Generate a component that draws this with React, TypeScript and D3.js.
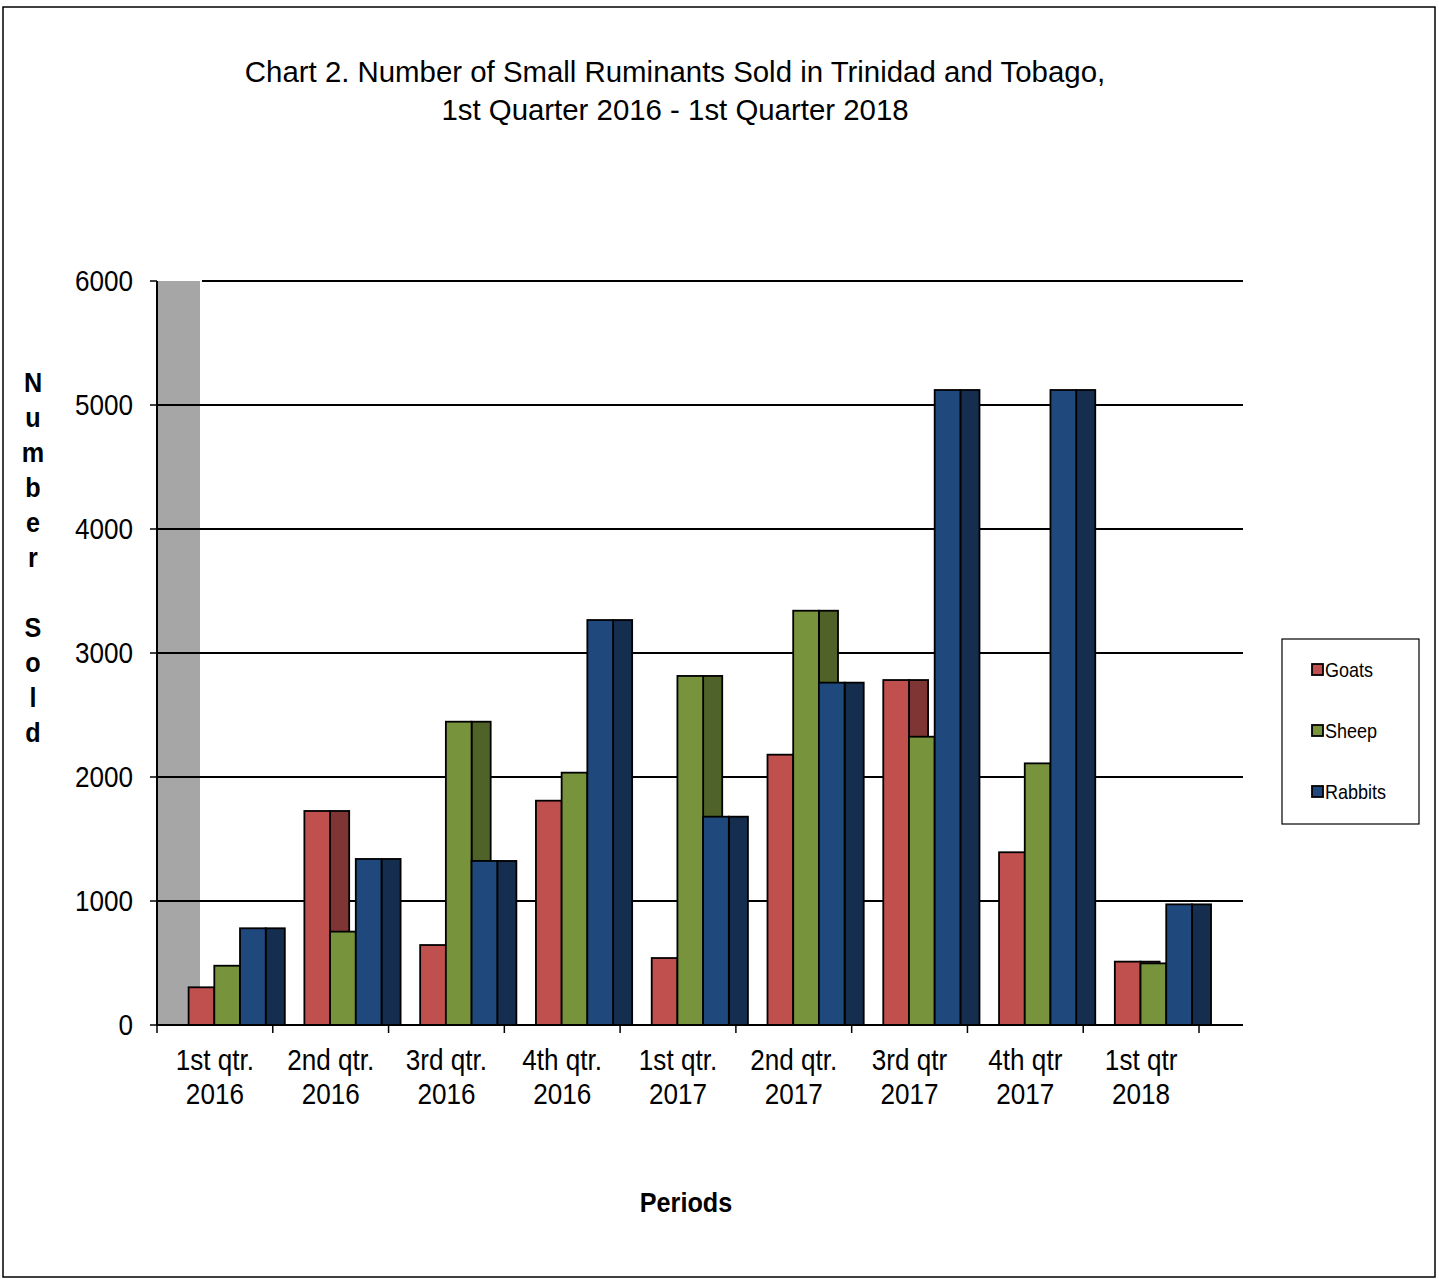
import React from "react";
import * as d3 from "d3";

const categories = [
  ["1st qtr.", "2016"],
  ["2nd qtr.", "2016"],
  ["3rd qtr.", "2016"],
  ["4th qtr.", "2016"],
  ["1st qtr.", "2017"],
  ["2nd qtr.", "2017"],
  ["3rd qtr", "2017"],
  ["4th qtr", "2017"],
  ["1st qtr", "2018"],
];
const seriesNames = ["Goats", "Sheep", "Rabbits"];
const goats = [304, 1726, 645, 1809, 540, 2180, 2782, 1393, 511];
const sheep = [478, 753, 2446, 2035, 2815, 3341, 2325, 2110, 497];
const rabbits = [780, 1339, 1323, 3266, 1680, 2761, 5121, 5121, 973];
const yTicks = [0, 1000, 2000, 3000, 4000, 5000, 6000];

const frontColors = ["#c0504d", "#77933c", "#1f497d"];
const sideColors = ["#7f3533", "#4f6228", "#152d4f"];

const W = 1439;
const H = 1279;
const plotLeft = 157;
const plotRight = 1199;
const gridRight = 1243;
const y0 = 1025;
const yTop = 281;
const SX = 0.9;

export default function App() {
  const values = [goats, sheep, rabbits];
  const x = d3
    .scaleBand<number>()
    .domain(d3.range(categories.length))
    .range([plotLeft, plotRight])
    .padding(0);
  const y = d3.scaleLinear().domain([0, 6000]).range([y0, yTop]);
  const bw = x.bandwidth();
  const offset = 0.273 * bw;
  const frontW = 0.222 * bw;
  const sideW = 0.165 * bw;
  const font = "'Liberation Sans', Arial, sans-serif";

  const txt = (
    key: string,
    tx: number,
    ty: number,
    s: string,
    size: number,
    anchor: string,
    weight: string = "normal",
    sx: number = SX
  ) => (
    <text
      key={key}
      transform={`translate(${tx},${ty}) scale(${sx},1)`}
      fontSize={size}
      fontFamily={font}
      fontWeight={weight}
      textAnchor={anchor}
      fill="#000"
    >
      {s}
    </text>
  );

  const yTitle = ["N", "u", "m", "b", "e", "r", "", "S", "o", "l", "d"];

  return (
    <svg
      width={W}
      height={H}
      style={{ position: "absolute", left: 0, top: 0, background: "#fff" }}
    >
      <rect x={3} y={7} width={1432} height={1270} fill="#fff" stroke="#000" strokeWidth={1.5} />
      {txt("t1", 675, 82, "Chart 2. Number of Small Ruminants Sold in Trinidad and Tobago,", 30, "middle", "normal", 0.98)}
      {txt("t2", 675, 120, "1st Quarter 2016 - 1st Quarter 2018", 30, "middle", "normal", 0.98)}

      {/* grey wall */}
      <rect x={plotLeft} y={yTop} width={43} height={y0 - yTop} fill="#a6a6a6" />

      {/* gridlines */}
      {yTicks.map((t) => (
        <line
          key={"g" + t}
          x1={t === 6000 ? 202 : plotLeft}
          x2={gridRight}
          y1={y(t)}
          y2={y(t)}
          stroke="#000"
          strokeWidth={2}
        />
      ))}

      {/* y axis */}
      <line x1={plotLeft} x2={plotLeft} y1={yTop} y2={y0} stroke="#000" strokeWidth={2} />
      {yTicks.map((t) => (
        <g key={"yt" + t}>
          <line x1={150} x2={plotLeft} y1={y(t)} y2={y(t)} stroke="#000" strokeWidth={1.5} />
          {txt("yl" + t, 133, y(t) + 10, String(t), 29, "end")}
        </g>
      ))}

      {/* bars */}
      {categories.map((_, ci) => {
        const gx = x(ci)!;
        return (
          <g key={"grp" + ci}>
            {values.map((vals, si) => {
              const fx = gx + offset + si * frontW;
              const top = y(vals[ci]);
              return (
                <g key={"b" + si}>
                  <rect
                    x={fx + frontW}
                    y={top}
                    width={sideW}
                    height={y0 - top}
                    fill={sideColors[si]}
                    stroke="#000"
                    strokeWidth={1.8}
                  />
                  <rect
                    x={fx}
                    y={top}
                    width={frontW}
                    height={y0 - top}
                    fill={frontColors[si]}
                    stroke="#000"
                    strokeWidth={1.8}
                  />
                </g>
              );
            })}
          </g>
        );
      })}

      {/* x axis */}
      <line x1={plotLeft} x2={gridRight} y1={y0} y2={y0} stroke="#000" strokeWidth={2} />
      {d3.range(categories.length + 1).map((i) => {
        const tx = plotLeft + i * bw;
        return <line key={"xt" + i} x1={tx} x2={tx} y1={y0} y2={y0 + 8} stroke="#000" strokeWidth={1.5} />;
      })}
      {categories.map((c, ci) => {
        const cx = x(ci)! + bw / 2;
        return (
          <g key={"xl" + ci}>
            {txt("xa" + ci, cx, 1070, c[0], 29, "middle")}
            {txt("xb" + ci, cx, 1104, c[1], 29, "middle")}
          </g>
        );
      })}

      {/* y title */}
      {yTitle.map((ch, i) =>
        ch ? txt("ytl" + i, 33, 392 + i * 35, ch, 28, "middle", "bold") : null
      )}

      {/* x title */}
      {txt("xtitle", 686, 1212, "Periods", 28, "middle", "bold")}

      {/* legend */}
      <rect x={1282} y={639} width={137} height={185} fill="#fff" stroke="#000" strokeWidth={1.2} />
      {seriesNames.map((n, i) => {
        const cy = 670 + i * 61;
        return (
          <g key={"lg" + n}>
            <rect x={1312} y={cy - 6} width={11} height={11} fill={frontColors[i]} stroke="#000" strokeWidth={1.8} />
            {txt("lt" + n, 1325, cy + 7, n, 20, "start")}
          </g>
        );
      })}
    </svg>
  );
}
